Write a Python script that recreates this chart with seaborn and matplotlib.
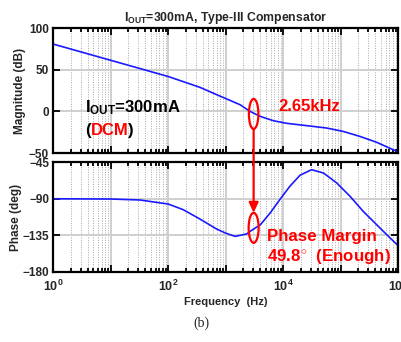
import numpy as np
import pandas as pd
import matplotlib
matplotlib.use("Agg")
import matplotlib.pyplot as plt
import seaborn as sns
from matplotlib.patches import Ellipse, FancyArrowPatch
from matplotlib.ticker import LogLocator, FixedLocator, NullFormatter

# Loop gain, magnitude (dB) vs frequency (Hz)
mag_freq = [1, 10, 100, 355, 790, 1000, 1780, 2650, 4000, 6760, 11500,
            25700, 56000, 110000, 214000, 417000, 813000, 1e6]
mag_db = [81, 61.5, 42, 29, 18.5, 15.5, 8, 0, -6, -11.2, -14.3,
          -17.1, -19.9, -24, -30, -37, -46, -48.7]

# Loop gain, phase (deg) vs frequency (Hz)
ph_freq = [1, 10, 32, 100, 182, 355, 690, 1000, 1450, 2300, 2650, 4000,
           5900, 8700, 13000, 19500, 31000, 50000, 85000, 145000, 245000,
           420000, 720000, 1e6]
ph_deg = [-90, -90.3, -91.5, -96.5, -103.5, -115, -127.3, -132.5, -136.4,
          -133.5, -130.2, -122, -107.6, -91, -74.6, -61, -54.1, -58.2,
          -70.5, -87, -105.5, -122, -138.4, -148]

crossover_hz = 2650
phase_margin = 49.8

mag_ticks = [100, 50, 0, -50]
ph_ticks = [-45, -90, -135, -180]
decades = [1, 10, 1e2, 1e3, 1e4, 1e5, 1e6]
decade_labels = [r"$\mathbf{10}^{\mathbf{0}}$", "", r"$\mathbf{10}^{\mathbf{2}}$", "",
                 r"$\mathbf{10}^{\mathbf{4}}$", "", r"$\mathbf{10}^{\mathbf{6}}$"]

sns.set_style("white")
plt.rcParams["font.family"] = ["Liberation Sans", "DejaVu Sans"]
plt.rcParams["font.weight"] = "bold"
plt.rcParams["mathtext.fontset"] = "custom"
plt.rcParams["mathtext.rm"] = "Liberation Sans:bold"
plt.rcParams["mathtext.bf"] = "Liberation Sans:bold"
plt.rcParams["mathtext.it"] = "Liberation Sans:bold"

fig = plt.figure(figsize=(4.02, 3.42), dpi=100)
ax1 = fig.add_axes([0.1326, 0.5526, 0.8582, 0.3646])
ax2 = fig.add_axes([0.1326, 0.2056, 0.8582, 0.3198])

mag_df = pd.DataFrame({"f": mag_freq, "mag": mag_db})
ph_df = pd.DataFrame({"f": ph_freq, "ph": ph_deg})

line_color = "#1a1aff"
sns.lineplot(data=mag_df, x="f", y="mag", ax=ax1, color=line_color, lw=1.2)
sns.lineplot(data=ph_df, x="f", y="ph", ax=ax2, color=line_color, lw=1.2)

for ax, ticks in ((ax1, mag_ticks), (ax2, ph_ticks)):
    ax.set_xscale("log")
    ax.set_xlim(1, 1e6)
    ax.set_ylim(min(ticks), max(ticks))
    ax.set_yticks(ticks)
    ax.xaxis.set_major_locator(FixedLocator(decades))
    ax.xaxis.set_minor_locator(LogLocator(base=10, subs=np.arange(2, 10), numticks=20))
    ax.xaxis.set_minor_formatter(NullFormatter())
    ax.grid(True, which="major", color="#cfcfcf", lw=1.4, ls="-")
    ax.grid(True, which="minor", axis="x", color="#a8a8a8", lw=0.7, ls=(0, (1, 1.5)))
    ax.set_axisbelow(True)
    ax.tick_params(which="both", direction="in", top=True, right=True,
                   bottom=True, left=True, width=1.3, color="black")
    ax.tick_params(which="major", length=5, labelsize=8.5, pad=3)
    ax.tick_params(which="minor", length=3)
    for sp in ax.spines.values():
        sp.set_linewidth(1.6)
        sp.set_color("black")
    for lbl in ax.get_yticklabels():
        lbl.set_fontweight("bold")
    ax.set_xlabel("")

ax1.set_xticklabels([])
ax2.set_xticklabels(decade_labels)
ax2.tick_params(axis="x", which="major", pad=5, labelsize=9)

ax1.set_ylabel("Magnitude (dB)", fontsize=8.5, fontweight="bold")
ax2.set_ylabel("Phase (deg)", fontsize=8.5, fontweight="bold")
ax1.yaxis.set_label_coords(-0.08, 0.5)
ax2.yaxis.set_label_coords(-0.092, 0.5)
ax2.set_xlabel("Frequency  (Hz)", fontsize=8, fontweight="bold", labelpad=2)
ax1.set_title(r"$\mathbf{I_{OUT}}$=300mA, Type-III Compensator",
              fontsize=8.8, fontweight="bold", pad=5)

# Operating-point labels
ax1.text(0.092, 0.365, r"$\mathbf{I_{OUT}}$=300mA", transform=ax1.transAxes,
         fontsize=12, fontweight="bold", color="black", va="center")
ax1.text(0.652, 0.371, f"{crossover_hz / 1000:.2f}kHz", transform=ax1.transAxes,
         fontsize=12, fontweight="bold", color="red", va="center")
ax2.text(0.619, 0.324, "Phase Margin", transform=ax2.transAxes,
         fontsize=12.2, fontweight="bold", color="red", va="center")
ax2.text(0.619, 0.141, f"{phase_margin}$^{{\\circ}}$  (Enough)",
         transform=ax2.transAxes, fontsize=12.2, fontweight="bold",
         color="red", va="center")

fig.canvas.draw()
renderer = fig.canvas.get_renderer()
x0 = 0.092
for s, c in [("(", "black"), ("DCM", "red"), (")", "black")]:
    t = ax1.text(x0, 0.184, s, transform=ax1.transAxes, fontsize=12,
                 fontweight="bold", color=c, va="center")
    bb = t.get_window_extent(renderer=renderer)
    x0 = ax1.transAxes.inverted().transform((bb.x1, bb.y0))[0]

# Crossover markers and the arrow linking them
cx, cy = ax1.transData.transform((crossover_hz, 0))
px, py = ax2.transData.transform((crossover_hz, -(180 - phase_margin)))
cx += 3.5
cy -= 2.5
px += 3.5
py += 3.5
e1 = Ellipse((cx, cy), 9.5, 30, fill=False, ec="red", lw=1.6, transform=None)
e2 = Ellipse((px, py), 10, 30, fill=False, ec="red", lw=1.6, transform=None)
fig.add_artist(e1)
fig.add_artist(e2)
arr = FancyArrowPatch((cx, cy - 15), (px, py + 15), transform=None,
                      arrowstyle="-|>,head_length=6,head_width=2.8",
                      color="red", lw=1.6, shrinkA=0, shrinkB=0,
                      mutation_scale=1)
fig.add_artist(arr)

fig.text(0.5, 0.055, "(b)", ha="center", va="center", fontsize=10,
         family="Liberation Serif", fontweight="normal")

fig.savefig("out.png", dpi=100)
